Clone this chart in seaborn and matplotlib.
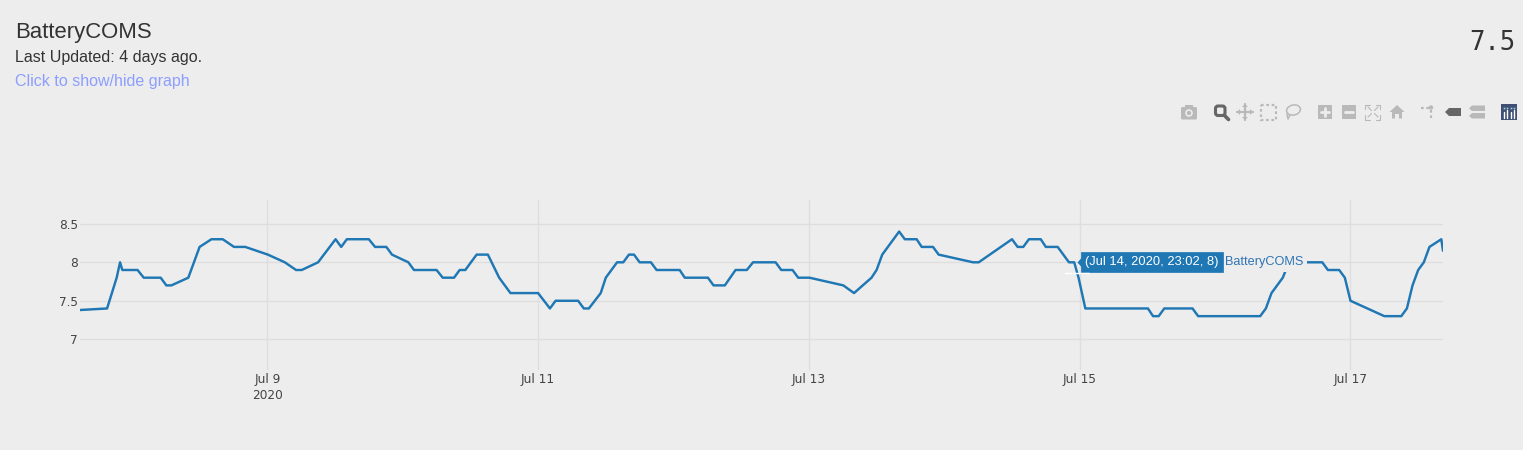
import matplotlib
matplotlib.use("Agg")
import matplotlib.pyplot as plt
import matplotlib.dates as mdates
from matplotlib.patches import Rectangle, Polygon, Circle, Ellipse, FancyBboxPatch
import numpy as np
import pandas as pd
import seaborn as sns

SERIES = "BatteryCOMS"
UPDATED = "Last Updated: 4 days ago."
LINK = "Click to show/hide graph"
CURRENT = "7.5"
TOOLTIP = "(Jul 14, 2020, 23:02, 8)"

# hours since 2020-07-09 00:00
hours = [-33.2, -28.4, -26.7, -26.1, -25.7, -23.0, -21.9, -18.9, -17.9, -17.0, -14.0, -12.0,
         -9.9, -7.9, -5.9, -3.9, 0.1, 3.1, 5.1, 6.1, 9.0, 12.1, 13.1, 14.1, 18.0, 19.1, 21.1,
         22.1, 25.0, 26.0, 30.0, 31.1, 33.1, 34.1, 35.1, 37.1, 39.1, 41.1, 43.1, 48.0, 50.1,
         51.1, 55.1, 56.1, 57.0, 59.1, 60.0, 62.0, 63.1, 64.1, 65.0, 66.0, 68.0, 69.0, 73.1,
         74.0, 78.1, 79.1, 81.1, 83.0, 85.0, 86.1, 90.1, 91.1, 93.1, 94.1, 96.1, 102.1, 104.0,
         107.1, 108.0, 109.0, 112.0, 113.0, 115.1, 116.0, 118.0, 119.0, 125.1, 126.1, 132.0,
         133.0, 134.0, 135.0, 137.1, 138.0, 140.1, 142.1, 143.03, 143.8, 145.0, 156.1, 157.0,
         158.0, 159.0, 164.0, 165.0, 176.0, 177.0, 178.0, 180.0, 181.1, 184.5, 187.0, 188.0,
         190.0, 191.0, 192.0, 198.0, 201.0, 202.0, 203.0, 204.0, 205.0, 206.0, 208.1, 208.4]
battery = [7.38, 7.4, 7.8, 8.0, 7.9, 7.9, 7.8, 7.8, 7.7, 7.7, 7.8, 8.2,
           8.3, 8.3, 8.2, 8.2, 8.1, 8.0, 7.9, 7.9, 8.0, 8.3, 8.2, 8.3, 8.3, 8.2, 8.2,
           8.1, 8.0, 7.9, 7.9, 7.8, 7.8, 7.9, 7.9, 8.1, 8.1, 7.8, 7.6, 7.6, 7.4,
           7.5, 7.5, 7.4, 7.4, 7.6, 7.8, 8.0, 8.0, 8.1, 8.1, 8.0, 8.0, 7.9, 7.9,
           7.8, 7.8, 7.7, 7.7, 7.9, 7.9, 8.0, 8.0, 7.9, 7.9, 7.8, 7.8, 7.7, 7.6,
           7.8, 7.9, 8.1, 8.4, 8.3, 8.3, 8.2, 8.2, 8.1, 8.0, 8.0, 8.3,
           8.2, 8.2, 8.3, 8.3, 8.2, 8.2, 8.0, 8.0, 7.8, 7.4, 7.4, 7.3,
           7.3, 7.4, 7.4, 7.3, 7.3, 7.4, 7.6, 7.8, 8.0, 8.0, 8.0, 7.9,
           7.9, 7.8, 7.5, 7.3, 7.3, 7.4, 7.7, 7.9, 8.0, 8.2, 8.3, 8.15]
x_ticks = ["2020-07-09", "2020-07-11", "2020-07-13", "2020-07-15", "2020-07-17"]
x_tick_labels = ["Jul 9\n2020", "Jul 11", "Jul 13", "Jul 15", "Jul 17"]
y_ticks = [7, 7.5, 8, 8.5]
y_tick_labels = ["7", "7.5", "8", "8.5"]

BG = "#ededed"
GRID = "#dedede"
BLUE = "#1f77b4"
W, H = 1523, 450

sns.set_theme(style="white", rc={"figure.facecolor": BG, "axes.facecolor": BG})
plt.rcParams["font.family"] = ["DejaVu Sans"]

origin = pd.Timestamp("2020-07-09")
df = pd.DataFrame({"time": origin + pd.to_timedelta(hours, unit="h"), "value": battery})

fig = plt.figure(figsize=(W / 100, H / 100), dpi=100, facecolor=BG)
ax = fig.add_axes([80 / W, 1 - 370 / H, (1443 - 80) / W, 170 / H])
sns.lineplot(data=df, x="time", y="value", ax=ax, color=BLUE, linewidth=1.75, zorder=3, estimator=None)

ax.set_xlim(df["time"].iloc[0], df["time"].iloc[-1])
ax.set_ylim(6.60, 8.81)
ax.set_xlabel("")
ax.set_ylabel("")
ax.set_xticks([mdates.date2num(pd.Timestamp(t)) for t in x_ticks])
ax.set_xticklabels(x_tick_labels, fontsize=8.7, color="#444444", linespacing=1.32)
ax.set_yticks(y_ticks)
ax.set_yticklabels(y_tick_labels, fontsize=8.7, color="#444444")
ax.tick_params(axis="both", length=0)
ax.tick_params(axis="x", pad=2)
ax.tick_params(axis="y", pad=1.5)
ax.grid(True, color=GRID, linewidth=1)
ax.set_axisbelow(True)
for s in ax.spines.values():
    s.set_visible(False)

# hover labels
tip_t = origin + pd.to_timedelta(143.03, unit="h")
ax.annotate(TOOLTIP, xy=(tip_t, 8), xytext=(11, 0), textcoords="offset pixels",
            ha="left", va="center", color="white", fontsize=9.3, family="Liberation Sans",
            zorder=6, annotation_clip=False,
            bbox=dict(boxstyle="square,pad=0.3", fc=BLUE, ec=BLUE, lw=0.5))
ax.annotate(SERIES, xy=(tip_t, 8), xytext=(151, 0), textcoords="offset pixels",
            ha="left", va="center", color="#2f74b5", fontsize=9.2, family="Liberation Sans",
            zorder=5, annotation_clip=False,
            bbox=dict(boxstyle="square,pad=0.25", fc=BG, ec="none"))

# page-level overlay in pixel coordinates
ov = fig.add_axes([0, 0, 1, 1], facecolor="none")
ov.set_xlim(0, W)
ov.set_ylim(H, 0)
ov.axis("off")
ov.add_patch(Polygon([[1077.5, 262.5], [1082, 257.5], [1082, 267.5]], fc=BLUE, ec="none"))
ov.plot([1065, 1089], [272.5, 272.5], color="white", lw=1)

ov.text(15, 38, SERIES, fontsize=15.9, color="#333333", family="Liberation Sans", va="baseline")
ov.text(15, 62, UPDATED, fontsize=11.5, color="#333333", family="Liberation Sans", va="baseline")
ov.text(15, 86, LINK, fontsize=11.5, color="#8c9eff", family="Liberation Sans", va="baseline")
ov.text(1515, 50, CURRENT, fontsize=18.4, color="#333333", family="DejaVu Sans Mono", ha="right", va="baseline")

# modebar icons
GI = "#b9b9b9"
DK = "#666666"
cy = 112
# camera
ov.add_patch(FancyBboxPatch((1181, 107), 16, 12.5, boxstyle="round,pad=0,rounding_size=1.5", fc=GI, ec="none"))
ov.add_patch(Rectangle((1185, 105), 8, 3, fc=GI, ec="none"))
ov.add_patch(Circle((1189, 113), 3.8, fc=BG, ec="none"))
ov.add_patch(Circle((1189, 113), 2.2, fc=GI, ec="none"))
# zoom (active)
ov.add_patch(FancyBboxPatch((1215.5, 106), 9.5, 9.5, boxstyle="round,pad=0,rounding_size=2.5", fc="none", ec=DK, lw=2.2))
ov.plot([1225, 1228.5], [116, 119.5], color=DK, lw=2.6, solid_capstyle="round")
# pan
ov.plot([1237, 1253], [cy, cy], color=GI, lw=1.6)
ov.plot([1245, 1245], [104, 120], color=GI, lw=1.6)
for pts in ([[1237, cy], [1240, cy - 3], [1240, cy + 3]], [[1253, cy], [1250, cy - 3], [1250, cy + 3]],
            [[1245, 104], [1242, 107], [1248, 107]], [[1245, 120], [1242, 117], [1248, 117]]):
    ov.add_patch(Polygon(pts, fc=GI, ec="none"))
# box select
ov.add_patch(Rectangle((1261.5, 104.5), 15, 15, fc="none", ec=GI, lw=1.6, ls=(0, (1.2, 1.2))))
# lasso
ov.add_patch(Ellipse((1293.5, 110), 14, 10, angle=-12, fc="none", ec=GI, lw=1.1))
ov.plot([1287, 1288, 1290], [114, 119, 115], color=GI, lw=1.1)
# zoom in / out
ov.add_patch(Rectangle((1318, 105), 14, 14, fc=GI, ec="none"))
ov.plot([1321, 1329], [cy, cy], color=BG, lw=2)
ov.plot([1325, 1325], [108, 116], color=BG, lw=2)
ov.add_patch(Rectangle((1342, 105), 14, 14, fc=GI, ec="none"))
ov.plot([1345, 1353], [cy, cy], color=BG, lw=2)
# autoscale
for sx, sy in [(1, 1), (1, -1), (-1, 1), (-1, -1)]:
    ov.plot([1373 + sx * 7.5, 1373 + sx * 7.5, 1373 + sx * 3], [cy + sy * 3, cy + sy * 7.5, cy + sy * 7.5], color=GI, lw=0.8)
    ov.plot([1373 + sx * 1.5, 1373 + sx * 5], [cy + sy * 1.5, cy + sy * 5], color=GI, lw=0.8)
# home
ov.add_patch(Polygon([[1389.5, 112], [1397, 105], [1404.5, 112], [1402, 112], [1402, 118.5],
                      [1399, 118.5], [1399, 114], [1395, 114], [1395, 118.5], [1392, 118.5], [1392, 112]],
                     fc=GI, ec="none"))
# spike lines
ov.add_patch(Circle((1431, 107.5), 2.2, fc=GI, ec="none"))
ov.plot([1421, 1429], [107.5, 107.5], color=GI, lw=1.6, ls=(0, (1.2, 1.2)))
ov.plot([1431, 1431], [110, 118], color=GI, lw=1.6, ls=(0, (1.2, 1.2)))
# closest / compare hover
ov.add_patch(Polygon([[1445, 112], [1449, 108], [1461, 108], [1461, 116], [1449, 116]], fc=DK, ec="none"))
ov.add_patch(Polygon([[1469, 108.5], [1472, 105.5], [1485, 105.5], [1485, 111], [1472, 111]], fc=GI, ec="none"))
ov.add_patch(Polygon([[1469, 116], [1472, 113], [1485, 113], [1485, 118.5], [1472, 118.5]], fc=GI, ec="none"))
# logo
ov.add_patch(Rectangle((1501, 104), 16, 16, fc="#3f4f75", ec="none"))
for dx, top in zip([1504, 1507.5, 1511, 1514.5], [112, 110, 112, 110]):
    ov.plot([dx, dx], [top, 117.5], color="white", lw=1)
    ov.plot([dx], [107.5], marker="s", ms=1.2, color="#9fd0d8", mec="none")

fig.savefig("out.png", dpi=100, facecolor=BG)
